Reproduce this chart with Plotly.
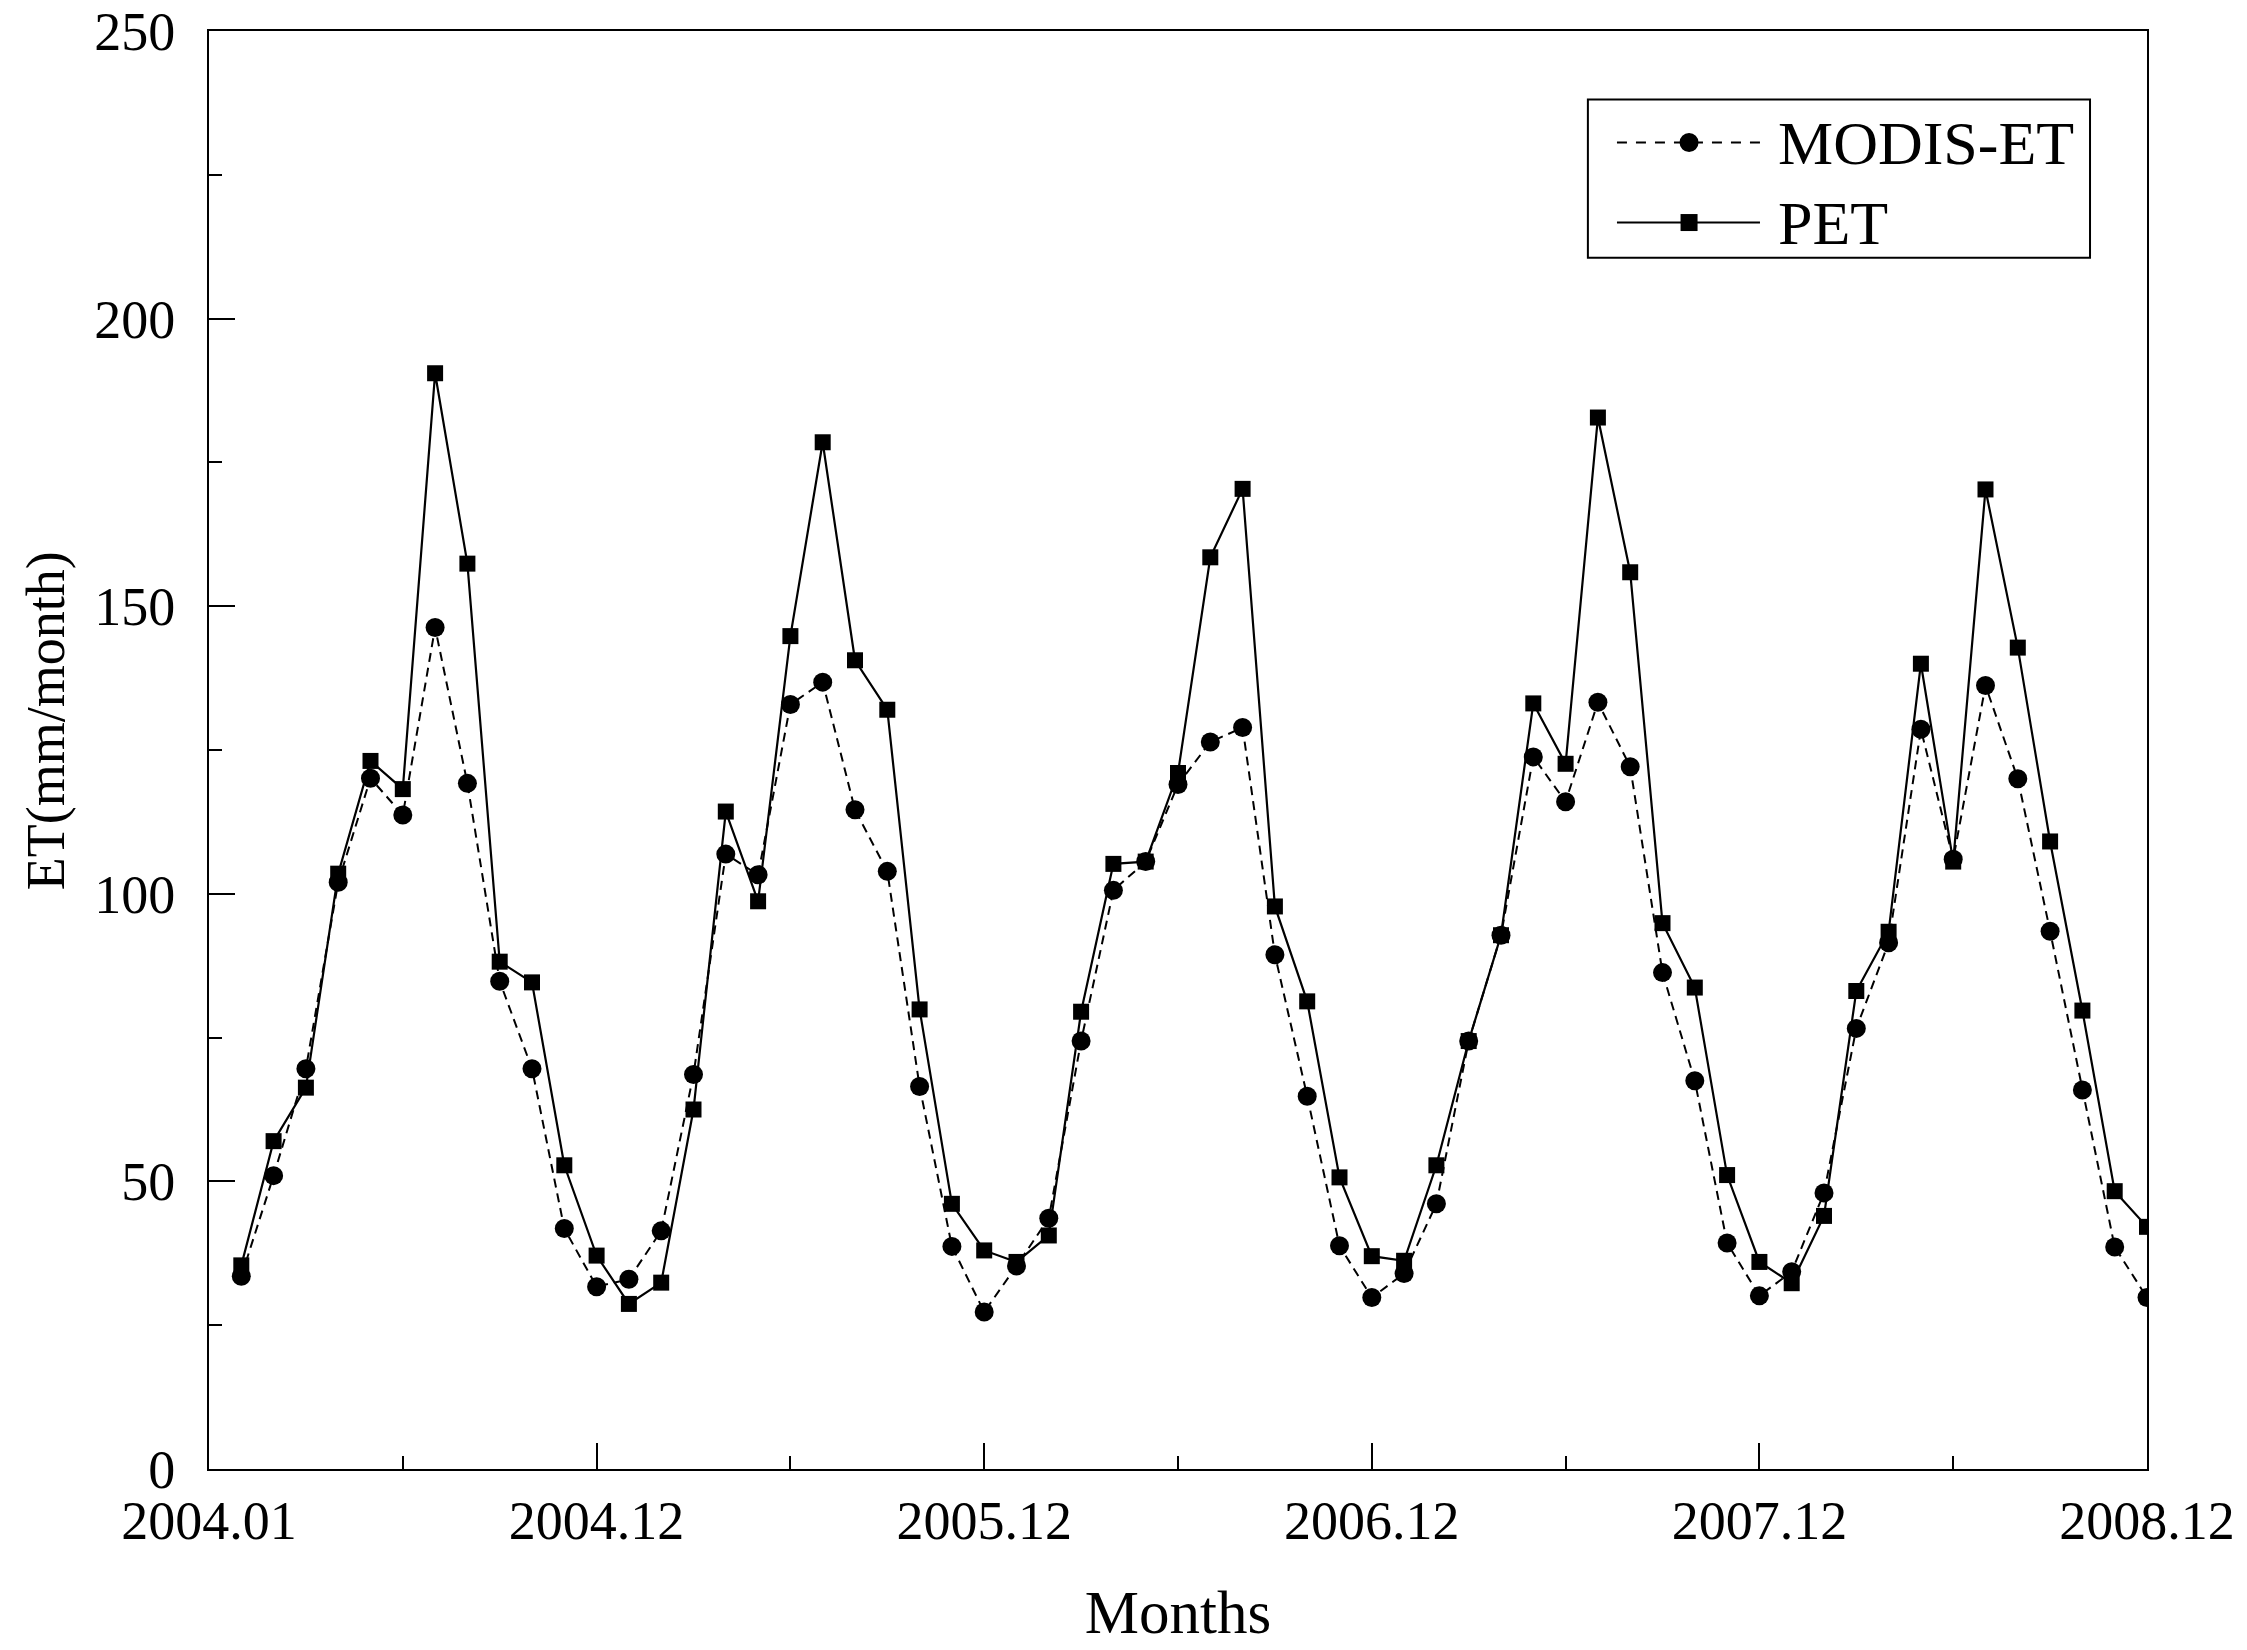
import plotly.graph_objects as go

months = list(range(1, 61))

modis_et = [33.5, 51.0, 69.6, 102.0, 120.1, 113.7, 146.3, 119.2, 84.8, 69.6, 41.8, 31.7,
            33.0, 41.4, 68.6, 106.9, 103.3, 132.9, 136.8, 114.6, 103.9, 66.5, 38.7, 27.3,
            35.3, 43.6, 74.4, 100.6, 105.6, 119.0, 126.4, 128.9, 89.4, 64.8, 38.8, 29.8,
            34.0, 46.1, 74.4, 92.8, 123.8, 116.0, 133.3, 122.1, 86.3, 67.5, 39.3, 30.1,
            34.3, 48.0, 76.6, 91.5, 128.6, 106.0, 136.2, 120.0, 93.5, 65.9, 38.6, 29.8]

pet = [35.4, 57.0, 66.3, 103.5, 123.1, 118.2, 190.5, 157.4, 88.2, 84.6, 52.8, 37.1,
       28.7, 32.4, 62.5, 114.3, 98.7, 144.8, 178.5, 140.6, 132.0, 79.9, 46.1, 38.0,
       36.0, 40.6, 79.5, 105.2, 105.6, 121.0, 158.5, 170.4, 97.8, 81.3, 50.7, 37.0,
       36.2, 52.8, 74.4, 92.8, 133.1, 122.6, 182.8, 155.9, 94.9, 83.7, 51.1, 36.0,
       32.3, 44.0, 83.1, 93.4, 140.0, 105.6, 170.3, 142.8, 109.1, 79.7, 48.3, 42.1]

x_tickvals = [0, 12, 24, 36, 48, 60]
x_ticktext = ["2004.01", "2004.12", "2005.12", "2006.12", "2007.12", "2008.12"]
series_names = ["MODIS-ET", "PET"]

FONT = "Liberation Serif, Times New Roman, serif"
DASH = "9px,6px"

fig = go.Figure()
fig.add_trace(go.Scatter(
    x=months, y=modis_et, name=series_names[0], mode="lines+markers",
    line=dict(color="black", width=2, dash=DASH),
    marker=dict(symbol="circle", size=19, color="black"),
    showlegend=False,
))
fig.add_trace(go.Scatter(
    x=months, y=pet, name=series_names[1], mode="lines+markers",
    line=dict(color="black", width=2.2),
    marker=dict(symbol="square", size=16, color="black"),
    showlegend=False,
))

# ---- legend drawn as a framed key (paper coordinates) ----
box = dict(x0=0.7115, x1=0.9706, y0=0.8424, y1=0.9523)
row_y = [0.9224, 0.8668]
line_x = (0.7265, 0.8003)
sym_x = 0.7637
text_x = 0.8086

shapes = [
    dict(type="rect", xref="paper", yref="paper", **box,
         line=dict(color="black", width=2), fillcolor="white", layer="above"),
    dict(type="line", xref="paper", yref="paper", x0=line_x[0], x1=line_x[1],
         y0=row_y[0], y1=row_y[0], line=dict(color="black", width=2, dash="10px,9px"), layer="above"),
    dict(type="line", xref="paper", yref="paper", x0=line_x[0], x1=line_x[1],
         y0=row_y[1], y1=row_y[1], line=dict(color="black", width=2), layer="above"),
    dict(type="circle", xref="paper", yref="paper", xsizemode="pixel", ysizemode="pixel",
         xanchor=sym_x, yanchor=row_y[0], x0=-9.5, x1=9.5, y0=-9.5, y1=9.5,
         fillcolor="black", line=dict(color="black", width=0), layer="above"),
    dict(type="rect", xref="paper", yref="paper", xsizemode="pixel", ysizemode="pixel",
         xanchor=sym_x, yanchor=row_y[1], x0=-8.5, x1=8.5, y0=-8.5, y1=8.5,
         fillcolor="black", line=dict(color="black", width=0), layer="above"),
]
annotations = [
    dict(xref="paper", yref="paper", x=text_x, y=row_y[i], xanchor="left", yanchor="middle",
         text=series_names[i], showarrow=False,
         font=dict(family=FONT, size=62, color="black"))
    for i in range(2)
]
# y-axis title
annotations.append(dict(
    xref="paper", yref="paper", x=-0.0841, y=0.52, xanchor="center", yanchor="middle",
    text="ET(mm/month)", textangle=-90, showarrow=False,
    font=dict(family=FONT, size=54, color="black"),
))

fig.update_layout(
    width=2247, height=1650,
    margin=dict(l=201, r=108, t=23, b=189, autoexpand=False),
    paper_bgcolor="white", plot_bgcolor="white",
    font=dict(family=FONT, color="black", size=54),
    showlegend=False,
    shapes=shapes,
    annotations=annotations,
)

fig.update_xaxes(
    range=[0, 60], tickvals=x_tickvals, ticktext=x_ticktext,
    ticks="inside", ticklen=26, tickwidth=2, tickcolor="black",
    minor=dict(tickvals=[6, 18, 30, 42, 54], ticks="inside", ticklen=13, tickwidth=2, tickcolor="black"),
    showline=True, linecolor="black", linewidth=2, mirror=True,
    showgrid=False, zeroline=False, automargin=False,
    tickfont=dict(family=FONT, size=54, color="black"),
    ticklabelstandoff=3, ticklabeloverflow="allow",
    title=dict(text="Months", font=dict(family=FONT, size=61, color="black"), standoff=41),
)
fig.update_yaxes(
    range=[0, 250], tick0=0, dtick=50,
    ticks="inside", ticklen=26, tickwidth=2, tickcolor="black",
    minor=dict(dtick=25, ticks="inside", ticklen=13, tickwidth=2, tickcolor="black"),
    showline=True, linecolor="black", linewidth=2, mirror=True,
    showgrid=False, zeroline=False, automargin=False,
    tickfont=dict(family=FONT, size=54, color="black"),
    ticklabelstandoff=21, ticklabeloverflow="allow",
)

fig.write_html("out.html")
